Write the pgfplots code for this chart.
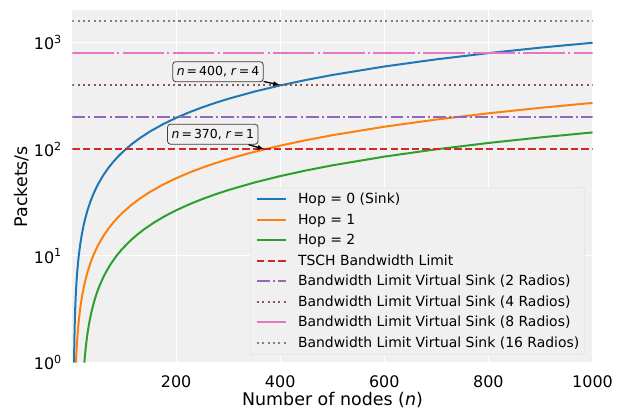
\documentclass[border=0pt]{standalone}
\usepackage{fontspec}
\setmainfont{DejaVu Sans}
\usepackage{pgfplots}
\pgfplotsset{compat=1.18}
\usetikzlibrary{arrows.meta}
\definecolor{c0}{HTML}{1F77B4}
\definecolor{c1}{HTML}{FF7F0E}
\definecolor{c2}{HTML}{2CA02C}
\definecolor{c3}{HTML}{D62728}
\definecolor{c4}{HTML}{9467BD}
\definecolor{c5}{HTML}{8C564B}
\definecolor{c6}{HTML}{E377C2}
\definecolor{c7}{HTML}{7F7F7F}
\definecolor{bg}{HTML}{F0F0F0}
\begin{document}
\begin{tikzpicture}
\begin{axis}[
  scale only axis, width=520bp, height=352.2bp,
  ymode=log, xmin=1, xmax=1000, ymin=1, ymax=2000,
  axis background/.style={fill=bg},
  axis line style={draw=none},
  major tick length=0pt, minor tick length=0pt,
  yminorticks=false, tick style={draw=none},
  grid=major, major grid style={white, line width=1bp},
  xtick={200,400,600,800,1000}, xticklabels={200,400,600,800,1000},
  ytick={1,10,100,1000},
  yticklabels={10\textsuperscript{0},10\textsuperscript{1},10\textsuperscript{2},10\textsuperscript{3}},
  tick label style={font=\fontsize{16}{19}\selectfont},
  xticklabel style={inner sep=0pt, anchor=north, yshift=-12.5bp},
  yticklabel style={inner sep=0pt, anchor=east, xshift=-10.5bp},
  xlabel={Number of nodes (\textit{n})}, ylabel={Packets/s},
  label style={font=\fontsize{17.5}{21}\selectfont},
  xlabel style={at={(axis description cs:0.5,-0.1221)}, anchor=base, inner sep=0pt},
  ylabel style={at={(axis description cs:-0.0869,0.5)}, anchor=base, inner sep=0pt, rotate=0},
  legend cell align=left,
  legend image code/.code={\draw[#1] (0bp,0bp) -- (29bp,0bp);},
  legend style={at={(axis description cs:0.9856,0.0219)}, anchor=south east,
    draw=black!14, fill=bg, rounded corners=2.5bp,
    font=\fontsize{14}{16}\selectfont,
    inner xsep=5.5bp, inner ysep=4bp, row sep=4.5bp,
    nodes={inner sep=0pt, text height=12.7bp, text depth=3.3bp},
    /tikz/every odd column/.append style={column sep=11bp}},
  every axis plot/.append style={line width=2bp, line join=round},
]
\addplot[c0] coordinates {(4,1) (4.25,1.25) (4.5,1.5) (5,2) (5.5,2.5) (6,3) (7,4) (8,5) (9,6) (10,7) (12,9) (14,11) (16,13) (18,15) (20,17) (23,20) (26,23) (30,27) (35,32) (40,37) (45,42) (50,47) (60,57) (70,67) (80,77) (90,87) (100,97) (115,112) (130,127) (150,147) (175,172) (200,197) (225,222) (250,247) (275,272) (300,297) (350,347) (400,397) (450,447) (500,497) (600,597) (700,697) (800,797) (900,897) (1000,997)};
\addlegendentry{Hop = 0 (Sink)}
\addplot[c1] coordinates {(7.66,1.000) (7.8,1.0383) (8,1.0929) (8.5,1.2295) (9,1.3661) (10,1.6393) (11,1.9126) (12,2.1858) (14,2.7322) (16,3.2787) (18,3.8251) (20,4.3716) (23,5.1913) (26,6.0109) (30,7.1038) (35,8.4699) (40,9.8361) (45,11.202) (50,12.568) (60,15.301) (70,18.033) (80,20.765) (90,23.497) (100,26.230) (115,30.328) (130,34.426) (150,39.891) (175,46.721) (200,53.552) (225,60.383) (250,67.213) (275,74.044) (300,80.874) (335,90.437) (370,100.000) (400,108.20) (450,121.86) (500,135.52) (600,162.84) (700,190.16) (800,217.49) (900,244.81) (1000,272.13)};
\addlegendentry{Hop = 1}
\addplot[c2] coordinates {(23.83,1.000) (24,1.0249) (24.5,1.0981) (25,1.1713) (26,1.3177) (27,1.4641) (28.5,1.6837) (30,1.9034) (32,2.1962) (34,2.4890) (37,2.9283) (40,3.3675) (44,3.9531) (48,4.5388) (53,5.2709) (60,6.2958) (67,7.3206) (75,8.4919) (85,9.9561) (95,11.420) (110,13.616) (125,15.813) (140,18.009) (160,20.937) (180,23.865) (200,26.794) (225,30.454) (250,34.114) (275,37.775) (300,41.435) (350,48.755) (400,56.076) (450,63.397) (500,70.717) (600,85.359) (700,100.000) (800,114.64) (900,129.28) (1000,143.92)};
\addlegendentry{Hop = 2}
\addplot[c3, dash pattern=on 7.4bp off 3.2bp] coordinates {(1,100) (1000,100)};
\addlegendentry{TSCH Bandwidth Limit}
\addplot[c4, dash pattern=on 12.8bp off 3.2bp on 2bp off 3.2bp] coordinates {(1,200) (1000,200)};
\addlegendentry{Bandwidth Limit Virtual Sink (2 Radios)}
\addplot[c5, dash pattern=on 2bp off 3.3bp] coordinates {(1,400) (1000,400)};
\addlegendentry{Bandwidth Limit Virtual Sink (4 Radios)}
\addplot[c6, dash pattern=on 41.5bp off 3.3bp on 2bp off 3.3bp] coordinates {(1,800) (1000,800)};
\addlegendentry{Bandwidth Limit Virtual Sink (8 Radios)}
\addplot[c7, dash pattern=on 2bp off 3.3bp] coordinates {(1,1600) (1000,1600)};
\addlegendentry{Bandwidth Limit Virtual Sink (16 Radios)}
\node[draw=black!75, line width=0.8bp, fill=bg, rounded corners=3bp, inner xsep=4bp, inner ysep=0pt, minimum height=20bp, font=\fontsize{12.5}{15}\selectfont] (b1) at (axis cs:280.5,534) {\textit{n}\,=\,400, \textit{r}\,=\,4};
\node[draw=black!75, line width=0.8bp, fill=bg, rounded corners=3bp, inner xsep=4bp, inner ysep=0pt, minimum height=20bp, font=\fontsize{12.5}{15}\selectfont] (b2) at (axis cs:270.5,138.5) {\textit{n}\,=\,370, \textit{r}\,=\,1};
\draw[black, line width=1.3bp, -{Latex[length=7bp,width=5bp]}] (b1) -- (axis cs:400,400);
\draw[black, line width=1.3bp, -{Latex[length=7bp,width=5bp]}] (b2) -- (axis cs:370,100);
\end{axis}
\pgfresetboundingbox
\path ([xshift=-72.5bp,yshift=-47.3bp]current axis.south west) rectangle ([xshift=33.5bp,yshift=10.5bp]current axis.north east);
\end{tikzpicture}
\end{document}
